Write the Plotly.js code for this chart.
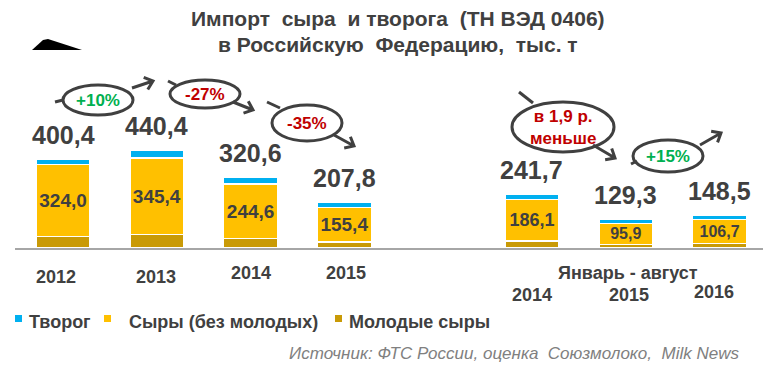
<!DOCTYPE html>
<html><head><meta charset="utf-8">
<script src="https://cdn.plot.ly/plotly-3.0.1.min.js"></script>
<style>body{margin:0;background:#fff}</style>
</head><body><div id="chart" style="width:783px;height:370px"></div>
<script>
// ---- data ----
const positions = [0, 1, 2, 3, 5, 6, 7];
const tvorog = [24.4, 34.0, 32.0, 24.4, 23.6, 17.7, 20.9];
const syry = [324.0, 345.4, 244.6, 155.4, 186.1, 95.9, 106.7];
const molodye = [52.0, 61.0, 44.0, 28.0, 32.0, 15.7, 20.9];
const totals = [400.4, 440.4, 320.6, 207.8, 241.7, 129.3, 148.5];
const seriesNames = ['Творог', 'Сыры (без молодых)', 'Молодые сыры'];
const yearLabels = ['2012', '2013', '2014', '2015'];
const periodLabels = ['2014', '2015', '2016'];
const periodTitle = 'Январь - август';
const titleLines = ['Импорт  сыра  и творога  (ТН ВЭД 0406)', 'в Российскую  Федерацию,  тыс. т'];
const changes = ['+10%', '-27%', '-35%', 'в 1,9 р.<br>меньше', '+15%'];

const colors = {tv: '#00b0f0', sy: '#ffc000', mo: '#c99a06'};
const FONT = 'Liberation Sans, Arial, sans-serif';
const DARK = '#404040';
const fmt = v => v.toFixed(1).replace('.', ',');

// plot area in pixels
const L = 15, R = 763, T = 100, B = 248;
const px = x => (x - L) / (R - L);
const py = y => (B - y) / (B - T);

const barLine = {color: '#ffffff', width: 1.5};
const traces = [
  {type: 'bar', x: positions, y: molodye, name: seriesNames[2], marker: {color: colors.mo, line: barLine}, width: 0.576, hoverinfo: 'skip'},
  {type: 'bar', x: positions, y: syry, name: seriesNames[1], marker: {color: colors.sy, line: barLine}, width: 0.576,
   text: syry.map(fmt), textposition: 'inside', insidetextanchor: 'middle', constraintext: 'none',
   textfont: {family: FONT, size: [19, 19, 19, 19, 18, 16, 16], color: DARK, weight: 'bold'}, hoverinfo: 'skip'},
  {type: 'bar', x: positions, y: tvorog, name: seriesNames[0], marker: {color: colors.tv, line: barLine}, width: 0.576, hoverinfo: 'skip'}
];

const annotations = [];
// title
[[18, titleLines[0]], [44, titleLines[1]]].forEach(([y, t]) => annotations.push({x: px(398), y: py(y), xref: 'paper', yref: 'paper',
  text: '<b>' + t + '</b>', showarrow: false, xanchor: 'center', yanchor: 'middle', font: {family: FONT, size: 21, color: DARK}}));
// totals
positions.forEach((p, i) => {
  annotations.push({x: p, y: totals[i], xref: 'x', yref: 'y', text: '<b>' + fmt(totals[i]) + '</b>',
    showarrow: false, yanchor: 'middle', yshift: 24, font: {family: FONT, size: 25, color: DARK}});
});
// year labels
const yearPx = [[56, 277], [156, 277], [251, 273], [346, 273]];
yearLabels.forEach((t, i) => annotations.push({x: px(yearPx[i][0]), y: py(yearPx[i][1]), xref: 'paper', yref: 'paper',
  text: '<b>' + t + '</b>', showarrow: false, xanchor: 'center', yanchor: 'middle', font: {family: FONT, size: 18, color: DARK}}));
const perPx = [[532, 295], [629, 295], [714, 292]];
periodLabels.forEach((t, i) => annotations.push({x: px(perPx[i][0]), y: py(perPx[i][1]), xref: 'paper', yref: 'paper',
  text: '<b>' + t + '</b>', showarrow: false, xanchor: 'center', yanchor: 'middle', font: {family: FONT, size: 18, color: DARK}}));
annotations.push({x: px(628), y: py(273), xref: 'paper', yref: 'paper', text: '<b>' + periodTitle + '</b>', showarrow: false,
  xanchor: 'center', yanchor: 'middle', font: {family: FONT, size: 18, color: DARK}});

// legend
const legendItems = [
  {name: seriesNames[0], color: colors.tv, sq: 15, tx: 27},
  {name: seriesNames[1], color: colors.sy, sq: 104, tx: 127},
  {name: seriesNames[2], color: colors.mo, sq: 335, tx: 347}
];
const shapes = [];
legendItems.forEach(it => {
  shapes.push({type: 'rect', xref: 'paper', yref: 'paper', x0: px(it.sq), x1: px(it.sq + 7), y0: py(322), y1: py(315),
    fillcolor: it.color, line: {width: 0}});
  annotations.push({x: px(it.tx), y: py(322), xref: 'paper', yref: 'paper', text: '<b>' + it.name + '</b>', showarrow: false,
    xanchor: 'left', yanchor: 'middle', font: {family: FONT, size: 18, color: DARK}});
});

// source
annotations.push({x: px(741), y: py(353), xref: 'paper', yref: 'paper', text: '<i>Источник: ФТС России, оценка  Союзмолоко,  Milk News</i>',
  showarrow: false, xanchor: 'right', yanchor: 'middle', font: {family: FONT, size: 17, color: '#808080'}});

// bubbles
const bubbles = [
  {cx: 98, cy: 100, rx: 35, ry: 15, color: '#00b050', tail: [55, 102, 63, 100], arrow: [132, 88, 153, 81], size: 17},
  {cx: 205, cy: 94, rx: 35, ry: 14, color: '#c00000', tail: [168, 81, 176, 85], arrow: [233, 102, 253, 110], size: 17},
  {cx: 307, cy: 123, rx: 35, ry: 18, color: '#c00000', tail: [267, 102, 280, 108], arrow: [334, 135, 354, 146], size: 17},
  {cx: 563, cy: 127, rx: 51, ry: 25, color: '#c00000', tail: [519, 92, 533, 103], arrow: [593, 145, 615, 158], size: 17},
  {cx: 668, cy: 156, rx: 35, ry: 16, color: '#00b050', tail: [631, 164, 637, 161], arrow: [700, 145, 721, 133], size: 17}
];
const P = (x, y) => px(x) + ' ' + py(y);
bubbles.forEach((b, i) => {
  shapes.push({type: 'circle', xref: 'paper', yref: 'paper', x0: px(b.cx - b.rx), x1: px(b.cx + b.rx), y0: py(b.cy + b.ry), y1: py(b.cy - b.ry),
    line: {color: DARK, width: 3}, fillcolor: 'rgba(0,0,0,0)'});
  shapes.push({type: 'path', xref: 'paper', yref: 'paper', path: 'M ' + P(b.tail[0], b.tail[1]) + ' L ' + P(b.tail[2], b.tail[3]),
    line: {color: DARK, width: 3}});
  const [x1, y1, x2, y2] = b.arrow;
  const ang = Math.atan2(y2 - y1, x2 - x1), hl = 10, ha = 0.7;
  const h1 = [x2 - hl * Math.cos(ang - ha), y2 - hl * Math.sin(ang - ha)];
  const h2 = [x2 - hl * Math.cos(ang + ha), y2 - hl * Math.sin(ang + ha)];
  shapes.push({type: 'path', xref: 'paper', yref: 'paper',
    path: 'M ' + P(x1, y1) + ' L ' + P(x2, y2) + ' M ' + P(h1[0], h1[1]) + ' L ' + P(x2, y2) + ' L ' + P(h2[0], h2[1]),
    line: {color: DARK, width: 3}});
  annotations.push({x: px(b.cx), y: py(b.cy), xref: 'paper', yref: 'paper', text: '<b>' + changes[i] + '</b>', showarrow: false,
    xanchor: 'center', yanchor: 'middle', font: {family: FONT, size: b.size, color: b.color}});
});

// dark artifact top-left
shapes.push({type: 'path', xref: 'paper', yref: 'paper',
  path: 'M ' + P(32, 50) + ' L ' + P(43, 40) + ' L ' + P(48, 39) + ' L ' + P(82, 50) + ' Z', fillcolor: '#000', line: {width: 0}});

const layout = {
  width: 783, height: 370,
  margin: {l: L, r: 783 - R, t: T, b: 370 - B, pad: 0},
  paper_bgcolor: '#fff', plot_bgcolor: '#fff',
  barmode: 'stack', showlegend: false,
  xaxis: {range: [-0.512, 7.463], showticklabels: false, showgrid: false, zeroline: false, showline: true,
    linecolor: '#a6a6a6', linewidth: 2, ticks: '', fixedrange: true},
  yaxis: {range: [0, 668], visible: false, showgrid: false, zeroline: false, fixedrange: true},
  annotations: annotations, shapes: shapes
};
Plotly.newPlot('chart', traces, layout, {displayModeBar: false, staticPlot: true});
</script></body></html>
